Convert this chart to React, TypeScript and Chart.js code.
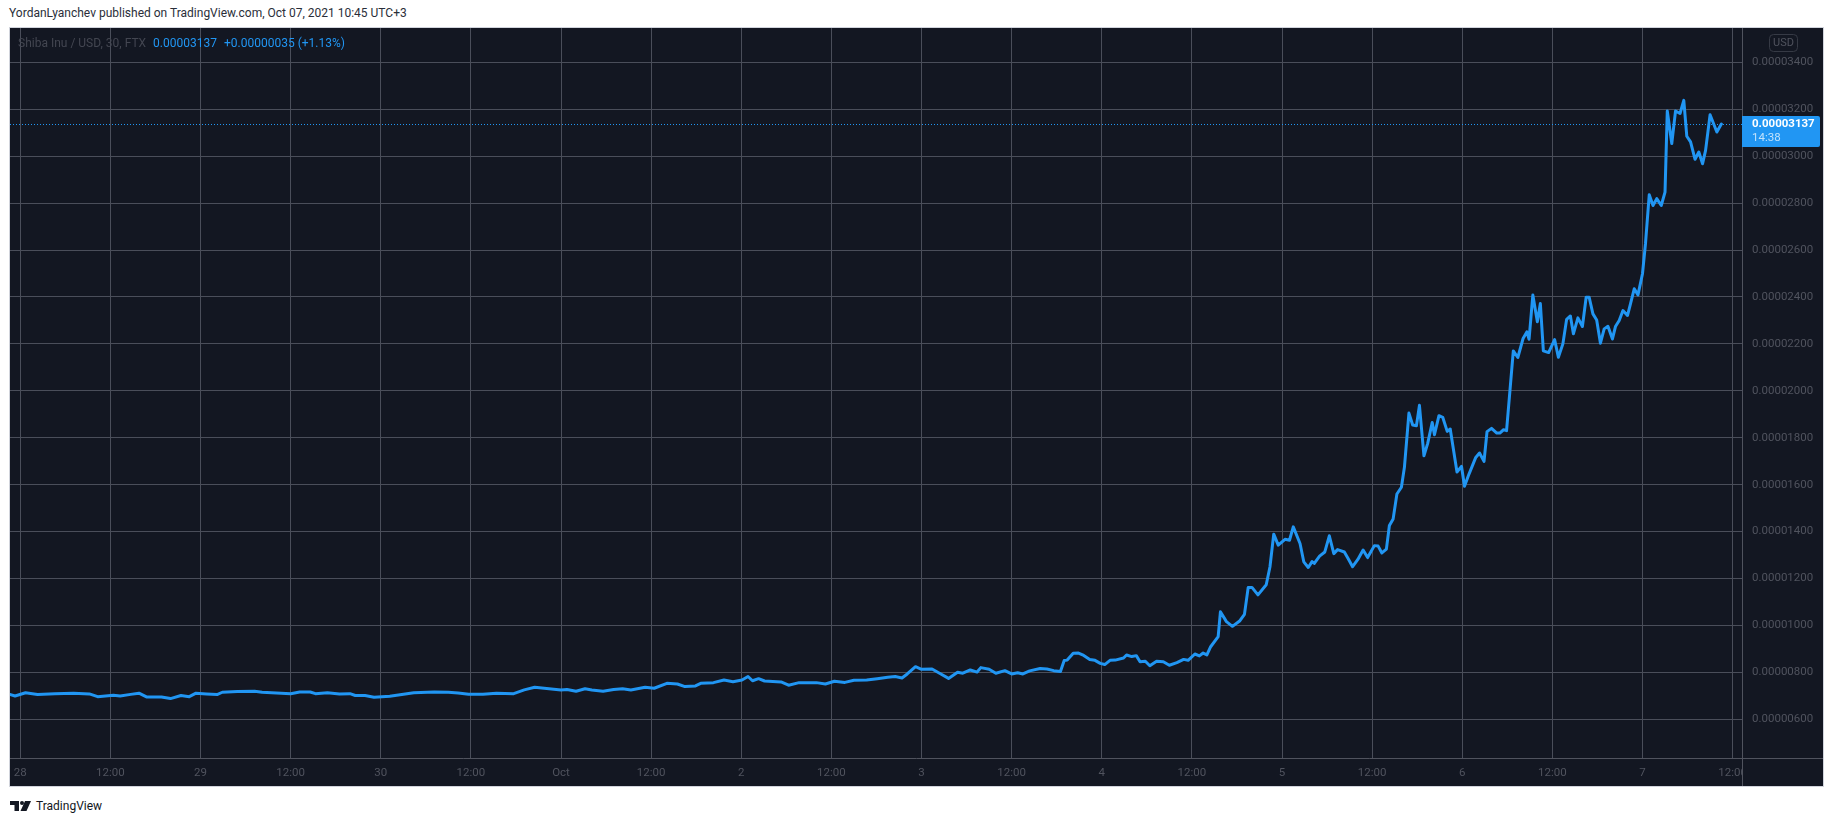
import React, { useEffect, useRef } from "react";
import { Chart, registerables } from "chart.js";

Chart.register(...registerables);

// Shiba Inu / USD, 30 min, FTX
// prices are in units of 1e-8 USD (e.g. 3137 = 0.00003137)
const PRICE_UNIT = 1e-8;

// hours since 28 Sep 2021 00:00 (UTC+3)
const HOURS = [
  -1.4, -0.7, 0.7, 2.3, 4.6, 7.1, 9.2, 10.3, 12.4, 13.3, 14.7, 15.8, 16.8, 18.8, 20.0, 21.4, 22.5, 23.4,
  24.8, 26.2, 26.9, 28.9, 31.2, 32.2, 36.0, 37.2, 38.6, 39.3, 40.9, 42.5, 43.9, 44.6, 45.9, 47.1,
  49.2, 52.4, 55.1, 57.0, 58.3, 59.7, 61.6, 63.4, 65.7, 67.1, 68.5, 70.4,
  72.0, 72.8, 74.0, 75.2, 76.1, 77.6, 79.0, 80.2, 81.3, 83.2, 84.4, 86.1, 87.5, 88.5, 89.9, 90.6,
  92.3, 93.7, 94.9, 96.1, 96.9, 97.5, 98.3, 99.1, 101.3, 102.3, 103.7, 106.0, 107.2, 108.4, 109.8,
  111.0, 112.7, 114.1, 115.5, 116.5, 117.4, 118.1, 119.2, 120.0, 121.4, 122.4, 123.6, 124.8, 125.5,
  126.5, 127.4, 127.9, 129.0, 129.9, 131.1, 132.0, 132.8, 133.5, 134.4, 135.8, 136.7, 137.6, 138.5,
  139.0, 139.4, 140.2, 140.9, 141.6, 142.4, 143.1, 143.8, 144.4, 145.1, 145.8, 146.9, 147.3, 148.0,
  148.6, 149.1, 149.8, 150.4, 151.3, 152.2, 153.0, 154.0, 154.9, 155.5, 156.4, 157.0, 157.5, 158.0,
  158.5, 159.5, 159.8, 160.6, 161.4, 162.4, 163.0, 163.5, 164.0, 164.8, 165.9, 166.4, 166.9, 167.5,
  168.4, 169.0, 169.5, 170.4, 170.9, 171.5, 172.0, 172.3, 173.0, 173.7, 174.3, 174.9, 175.4, 176.3,
  176.8, 177.4, 178.1, 178.8, 179.4, 180.3, 180.8, 181.3, 181.9, 182.3, 182.8, 183.3, 183.9, 184.3,
  184.9, 185.4, 185.9, 186.3, 186.9, 187.4, 188.0, 188.3, 188.9, 189.4, 190.0, 190.4, 191.3, 191.9,
  192.3, 192.9, 193.8, 194.3, 194.9, 195.3, 195.9, 196.6, 197.0, 197.5, 197.9, 198.8, 199.4, 200.1,
  200.6, 200.9, 201.4, 202.0, 202.4, 202.8, 203.5, 204.3, 204.8, 205.4, 205.9, 206.4, 206.8, 207.4,
  208.0, 208.5, 208.9, 209.4, 209.9, 210.4, 210.9, 211.4, 212.0, 212.4, 212.9, 213.4, 214.0, 214.4,
  214.9, 215.4, 216.0, 216.4, 216.9, 217.4, 217.9, 218.5, 219.0, 219.3, 219.9, 220.4, 221.0, 221.5,
  221.9, 222.4, 223.0, 223.5, 224.0, 224.4, 225.0, 225.9, 226.5,
];

const PRICES = [
  706, 699, 713, 705, 709, 711, 708, 696, 702, 699, 706, 711, 695, 695, 688, 701, 696, 711,
  708, 705, 715, 718, 719, 715, 709, 716, 716, 709, 713, 708, 709, 701, 701, 694,
  698, 713, 716, 715, 712, 706, 706, 711, 709, 725, 736, 730,
  725, 727, 719, 730, 725, 719, 727, 730, 725, 736, 732, 753, 750, 739, 742, 753,
  756, 767, 760, 767, 782, 764, 773, 763, 759, 745, 756, 756, 750, 762, 757,
  766, 767, 773, 779, 782, 776, 793, 824, 813, 814, 796, 774, 800, 796,
  810, 801, 820, 813, 796, 807, 793, 798, 793, 806, 816, 814, 807, 803,
  850, 852, 881, 882, 872, 855, 851, 838, 833, 851, 852, 861, 874, 867,
  871, 845, 847, 828, 847, 845, 830, 841, 855, 851, 878, 870, 882, 874,
  909, 952, 1058, 1016, 996, 1020, 1047, 1162, 1162, 1130, 1173, 1250, 1389, 1342,
  1367, 1363, 1420, 1349, 1271, 1247, 1272, 1264, 1295, 1313, 1382, 1306, 1323, 1313,
  1285, 1250, 1281, 1321, 1289, 1340, 1338, 1309, 1325, 1426, 1454, 1560, 1589, 1674,
  1905, 1854, 1851, 1938, 1723, 1776, 1865, 1813, 1894, 1887, 1827, 1837, 1654, 1678,
  1593, 1645, 1716, 1735, 1699, 1826, 1840, 1820, 1820, 1834, 1830, 2170, 2142, 2223,
  2251, 2220, 2408, 2294, 2372, 2170, 2163, 2218, 2143, 2200, 2305, 2319, 2243, 2311,
  2274, 2399, 2399, 2328, 2302, 2203, 2264, 2275, 2221, 2274, 2300, 2342, 2321, 2371,
  2435, 2409, 2499, 2627, 2836, 2790, 2819, 2790, 2847, 3193, 3054, 3193, 3182, 3238,
  3085, 3061, 2987, 3018, 2968, 3025, 3177, 3103, 3137,
];

const TIME_TICK_HOURS = [0, 12, 24, 36, 48, 60, 72, 84, 96, 108, 120, 132, 144, 156, 168, 180, 192, 204, 216, 228];
const TIME_TICK_LABELS = ["28", "12:00", "29", "12:00", "30", "12:00", "Oct", "12:00", "2", "12:00", "3", "12:00", "4", "12:00", "5", "12:00", "6", "12:00", "7", "12:00"];
const PRICE_TICKS = [600, 800, 1000, 1200, 1400, 1600, 1800, 2000, 2200, 2400, 2600, 2800, 3000, 3200, 3400];

const LAST_PRICE = 3137;
const PRICE_CHANGE = 35;
const PRICE_CHANGE_PCT = 1.13;
const BAR_COUNTDOWN = "14:38";

const X_MIN = -1.37;
const X_MAX = 229.25;
const Y_MIN = 434.7;
const Y_MAX = 3546.6;

const BG = "#131722";
const GRID = "#4a4e5a";
const AXIS_LINE = "#50535e";
const LABEL = "#50535e";
const BLUE = "#2196f3";
const FONT = "Roboto, 'Liberation Sans', sans-serif";

const fmt = (v: number) => (v * PRICE_UNIT).toFixed(8);

const CANVAS_W = 1813;
const CANVAS_H = 758;
const PRICE_AXIS_W = 81;
const TIME_AXIS_H = 28;

const overlayPlugin = {
  id: "tvOverlay",
  beforeDraw(chart: any) {
    const { ctx, width, height } = chart;
    ctx.save();
    ctx.fillStyle = BG;
    ctx.fillRect(0, 0, width, height);
    ctx.restore();
  },
  beforeDatasetsDraw(chart: any) {
    const { ctx, chartArea, scales } = chart;
    const py = Math.round(scales.y.getPixelForValue(LAST_PRICE)) + 0.5;
    ctx.save();
    ctx.strokeStyle = BLUE;
    ctx.lineWidth = 1;
    ctx.setLineDash([1, 2]);
    ctx.beginPath();
    ctx.moveTo(chartArea.left, py);
    ctx.lineTo(chartArea.right, py);
    ctx.stroke();
    ctx.restore();
  },
  afterDraw(chart: any) {
    const { ctx, chartArea, scales, width, height } = chart;
    const sep = Math.round(chartArea.right) + 0.5;
    const axisY = Math.round(chartArea.bottom) + 0.5;
    ctx.save();
    // clip time-axis labels under the price scale corner
    ctx.fillStyle = BG;
    ctx.fillRect(sep, axisY, width - sep, height - axisY);
    // separators
    ctx.strokeStyle = AXIS_LINE;
    ctx.lineWidth = 1;
    ctx.beginPath();
    ctx.moveTo(sep, 0);
    ctx.lineTo(sep, height);
    ctx.moveTo(0, axisY);
    ctx.lineTo(width, axisY);
    ctx.stroke();

    // last price label
    const py = scales.y.getPixelForValue(LAST_PRICE);
    const bx = sep - 0.5;
    const by = py - 8;
    const bw = 78;
    const bh = 31;
    ctx.fillStyle = BLUE;
    ctx.beginPath();
    ctx.moveTo(bx, by);
    ctx.lineTo(bx + bw - 2, by);
    ctx.quadraticCurveTo(bx + bw, by, bx + bw, by + 2);
    ctx.lineTo(bx + bw, by + bh - 2);
    ctx.quadraticCurveTo(bx + bw, by + bh, bx + bw - 2, by + bh);
    ctx.lineTo(bx, by + bh);
    ctx.closePath();
    ctx.fill();
    ctx.textAlign = "left";
    ctx.textBaseline = "middle";
    ctx.fillStyle = "#ffffff";
    ctx.font = `bold 11.5px ${FONT}`;
    ctx.fillText(fmt(LAST_PRICE), bx + 10, py);
    ctx.fillStyle = "rgba(255,255,255,0.72)";
    ctx.font = `11.5px ${FONT}`;
    ctx.fillText(BAR_COUNTDOWN, bx + 10, py + 14);

    // currency badge
    const ux = sep + 27;
    const uy = 6.5;
    const uw = 28;
    const uh = 17;
    ctx.strokeStyle = "#363a45";
    ctx.lineWidth = 1;
    ctx.beginPath();
    ctx.roundRect(ux, uy, uw, uh, 4);
    ctx.stroke();
    ctx.fillStyle = LABEL;
    ctx.font = `11px ${FONT}`;
    ctx.textAlign = "center";
    ctx.fillText("USD", ux + uw / 2, uy + uh / 2 + 0.5);
    ctx.restore();
  },
};

function PriceChart() {
  const ref = useRef<HTMLCanvasElement | null>(null);
  useEffect(() => {
    if (!ref.current) return;
    const points = HOURS.map((h, i) => ({ x: h, y: PRICES[i] }));
    const chart = new Chart(ref.current, {
      type: "line",
      data: {
        datasets: [
          {
            data: points,
            borderColor: BLUE,
            borderWidth: 3,
            pointRadius: 0,
            tension: 0,
            fill: false,
            borderJoinStyle: "round",
            borderCapStyle: "round",
          },
        ],
      },
      options: {
        responsive: false,
        animation: false,
        devicePixelRatio: 1,
        layout: { padding: 0 },
        plugins: { legend: { display: false }, tooltip: { enabled: false } },
        scales: {
          x: {
            type: "linear",
            min: X_MIN,
            max: X_MAX,
            afterBuildTicks: (s: any) => {
              s.ticks = TIME_TICK_HOURS.map((v) => ({ value: v }));
            },
            afterFit: (s: any) => {
              s.height = TIME_AXIS_H;
              s.paddingLeft = 0;
              s.paddingRight = 0;
              s.paddingTop = 0;
              s.paddingBottom = 0;
            },
            grid: { color: GRID, lineWidth: 1, drawTicks: false, tickLength: 0 },
            border: { display: false },
            ticks: {
              autoSkip: false,
              maxRotation: 0,
              minRotation: 0,
              padding: 8,
              color: LABEL,
              font: { family: FONT, size: 11.5 },
              callback: (v: any) => {
                const i = TIME_TICK_HOURS.indexOf(Number(v));
                return i >= 0 ? TIME_TICK_LABELS[i] : "";
              },
            },
          },
          y: {
            type: "linear",
            position: "right",
            min: Y_MIN,
            max: Y_MAX,
            afterBuildTicks: (s: any) => {
              s.ticks = PRICE_TICKS.map((v) => ({ value: v }));
            },
            afterFit: (s: any) => {
              s.width = PRICE_AXIS_W;
              s.paddingLeft = 0;
              s.paddingRight = 0;
              s.paddingTop = 0;
              s.paddingBottom = 0;
            },
            grid: { color: GRID, lineWidth: 1, drawTicks: false, tickLength: 0 },
            border: { display: false },
            ticks: {
              padding: 10,
              color: LABEL,
              font: { family: FONT, size: 11.5 },
              callback: (v: any) => fmt(Number(v)),
            },
          },
        },
      },
      plugins: [overlayPlugin],
    } as any);
    return () => chart.destroy();
  }, []);
  return <canvas ref={ref} width={CANVAS_W} height={CANVAS_H} style={{ width: CANVAS_W, height: CANVAS_H, display: "block" }} />;
}

function TVLogo() {
  return (
    <svg width="22" height="10" viewBox="0 0 22 10" style={{ display: "block" }}>
      <path d="M0 0 H9 V10 H4.5 V4 H0 Z" fill="#131722" />
      <circle cx="12" cy="2" r="2" fill="#131722" />
      <path d="M15 0 H21 L16.5 10 H10.5 Z" fill="#131722" />
    </svg>
  );
}

export default function App() {
  return (
    <div
      style={{
        position: "absolute",
        left: 0,
        top: 0,
        width: 1834,
        height: 821,
        background: "#ffffff",
        overflow: "hidden",
        fontFamily: FONT,
      }}
    >
      <div style={{ position: "absolute", left: 9, top: 5, fontSize: 12, lineHeight: "16px", color: "#2a2e39", whiteSpace: "nowrap" }}>
        YordanLyanchev published on TradingView.com, Oct 07, 2021 10:45 UTC+3
      </div>
      <div
        style={{
          position: "absolute",
          left: 9,
          top: 27,
          width: 1815,
          height: 760,
          boxSizing: "border-box",
          border: "1px solid #d1d4dc",
          background: BG,
        }}
      >
        <PriceChart />
        <div
          style={{
            position: "absolute",
            left: 8,
            top: 7,
            fontSize: 12,
            lineHeight: "16px",
            whiteSpace: "nowrap",
            pointerEvents: "none",
          }}
        >
          <span style={{ color: "#434651" }}>Shiba Inu / USD, 30, FTX</span>
          <span style={{ color: BLUE, marginLeft: 7 }}>{fmt(LAST_PRICE)}</span>
          <span style={{ color: BLUE, marginLeft: 7 }}>
            +{fmt(PRICE_CHANGE)} (+{PRICE_CHANGE_PCT.toFixed(2)}%)
          </span>
        </div>
      </div>
      <div style={{ position: "absolute", left: 10, top: 798, display: "flex", alignItems: "center", gap: 4 }}>
        <TVLogo />
        <span style={{ fontSize: 12, lineHeight: "16px", color: "#131722" }}>TradingView</span>
      </div>
    </div>
  );
}
